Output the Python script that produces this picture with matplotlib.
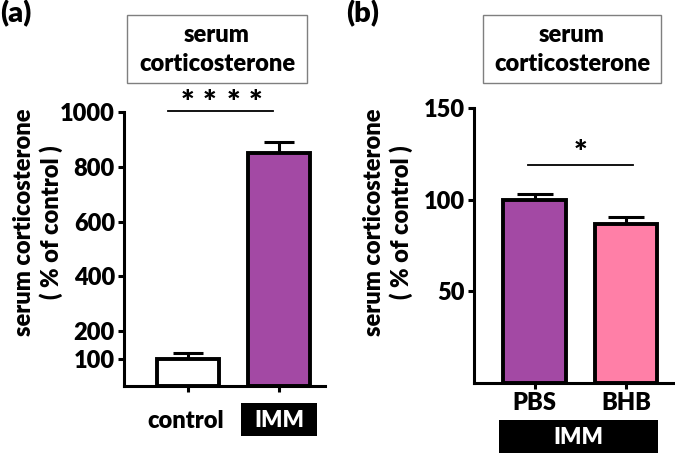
import matplotlib
matplotlib.use('Agg')
import matplotlib.pyplot as plt
from matplotlib.patches import Rectangle

plt.rcParams['font.family'] = ['Lato', 'DejaVu Sans']
plt.rcParams['font.weight'] = 'heavy'

# panel (a)
groups_a = ['control', 'IMM']
means_a = [100, 850]
errs_a = [20, 42]
colors_a = ['white', '#A349A4']
yticks_a = [100, 200, 400, 600, 800, 1000]

# panel (b)
groups_b = ['PBS', 'BHB']
means_b = [100, 87]
errs_b = [3, 3.5]
colors_b = ['#A349A4', '#FF7FA7']
yticks_b = [50, 100, 150]

title_txt = 'serum\ncorticosterone'
ylab = 'serum corticosterone\n( % of control )'
FS = 17

fig = plt.figure(figsize=(6.75, 4.55), dpi=100)
W, H = 675, 455


def px(x, y):
    # pixel (from top-left) -> figure fraction
    return x / W, (H - y) / H


def make_ax(l, r, top, bottom):
    return fig.add_axes([l / W, (H - bottom) / H, (r - l) / W, (bottom - top) / H])


def style(ax):
    for s in ['top', 'right']:
        ax.spines[s].set_visible(False)
    for s in ['left', 'bottom']:
        ax.spines[s].set_linewidth(2.2)
    ax.tick_params(width=2.2, length=4.5, labelsize=FS, pad=2)


def draw_bars(ax, means, errs, colors, cap):
    x = list(range(len(means)))
    ax.bar(x, means, width=0.68, color=colors, edgecolor='black', linewidth=2.8, zorder=2)
    ax.errorbar(x, means, yerr=[[0] * len(errs), errs], fmt='none', ecolor='black',
                elinewidth=2.2, capsize=cap, capthick=2.2, zorder=1)


def title_box(x0, x1, y0, y1):
    fig.patches.append(Rectangle(px(x0, y1), (x1 - x0) / W, (y1 - y0) / H,
                                 transform=fig.transFigure, fc='white', ec='#7f7f7f', lw=1))
    cx = (x0 + x1) / 2
    fig.text(*px(cx, 35), 'serum', ha='center', va='center', fontsize=FS)
    fig.text(*px(cx, 64), 'corticosterone', ha='center', va='center', fontsize=FS)


def black_box(x0, x1, y0, y1, label):
    fig.patches.append(Rectangle(px(x0, y1), (x1 - x0) / W, (y1 - y0) / H,
                                 transform=fig.transFigure, fc='black', ec='none'))
    fig.text(*px((x0 + x1) / 2, (y0 + y1) / 2 + 1), label, ha='center', va='center',
             fontsize=FS - 1, color='white')


# ---------- (a)
ax1 = make_ax(124, 325, 112, 386)
draw_bars(ax1, means_a, errs_a, colors_a, 11)
ax1.set_xlim(-0.7, 1.5)
ax1.set_ylim(0, 1000)
ax1.set_yticks(yticks_a)
ax1.set_xticks([0, 1])
ax1.set_xticklabels(['', ''])
style(ax1)
fig.text(*px(38, 222), ylab, rotation=90, ha='center', va='center', fontsize=FS,
         linespacing=1.2)
fig.text(*px(186, 421), groups_a[0], ha='center', va='center', fontsize=FS)
black_box(241, 317, 403, 436, groups_a[1])
ax1.plot([-0.22, 0.93], [1005, 1005], color='black', lw=1.3, clip_on=False)
for sx in [-0.01, 0.24, 0.5, 0.74]:
    ax1.text(sx, 1030, '*', ha='center', va='center', fontsize=FS + 6)
title_box(127, 307, 15, 83)
fig.text(*px(0, 14), '(a)', ha='left', va='center', fontsize=FS + 4)

# ---------- (b)
ax2 = make_ax(474, 673, 108, 383)
draw_bars(ax2, means_b, errs_b, colors_b, 13)
ax2.set_xlim(-0.66, 1.51)
ax2.set_ylim(0, 150)
ax2.set_yticks(yticks_b)
ax2.set_xticks([0, 1])
ax2.set_xticklabels(groups_b)
style(ax2)
fig.text(*px(388, 222), ylab, rotation=90, ha='center', va='center', fontsize=FS,
         linespacing=1.2)
ax2.plot([-0.07, 1.07], [119, 119], color='black', lw=1.3)
ax2.text(0.5, 125, '*', ha='center', va='center', fontsize=FS + 6)
black_box(499, 658, 420, 453, 'IMM')
title_box(483, 661, 15, 83)
fig.text(*px(346, 14), '(b)', ha='left', va='center', fontsize=FS + 4)

fig.savefig('out.png', dpi=100)
